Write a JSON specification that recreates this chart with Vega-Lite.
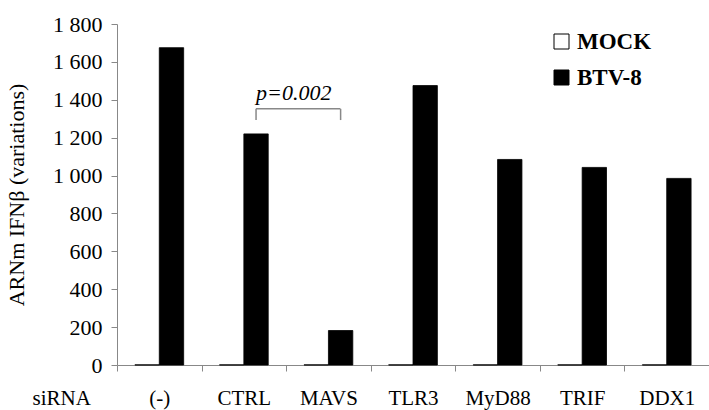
{
  "$schema": "https://vega.github.io/schema/vega-lite/v6.json",
  "width": 592,
  "height": 341,
  "autosize": {"type": "none"},
  "padding": {"left": 117, "top": 24, "right": 0, "bottom": 45},
  "background": "white",
  "config": {
    "view": {"stroke": null},
    "font": "Liberation Serif",
    "legend": {
      "labelFont": "Liberation Serif",
      "labelFontSize": 23,
      "labelFontWeight": "bold",
      "labelColor": "black"
    }
  },
  "datasets": {
    "bars": [
      {"siRNA": "(-)", "group": "MOCK", "value": 1},
      {"siRNA": "(-)", "group": "BTV-8", "value": 1675},
      {"siRNA": "CTRL", "group": "MOCK", "value": 1},
      {"siRNA": "CTRL", "group": "BTV-8", "value": 1220},
      {"siRNA": "MAVS", "group": "MOCK", "value": 1},
      {"siRNA": "MAVS", "group": "BTV-8", "value": 182},
      {"siRNA": "TLR3", "group": "MOCK", "value": 1},
      {"siRNA": "TLR3", "group": "BTV-8", "value": 1475},
      {"siRNA": "MyD88", "group": "MOCK", "value": 1},
      {"siRNA": "MyD88", "group": "BTV-8", "value": 1085},
      {"siRNA": "TRIF", "group": "MOCK", "value": 1},
      {"siRNA": "TRIF", "group": "BTV-8", "value": 1043},
      {"siRNA": "DDX1", "group": "MOCK", "value": 1},
      {"siRNA": "DDX1", "group": "BTV-8", "value": 985}
    ],
    "legs": [
      {"siRNA": "CTRL", "group": "BTV-8", "value": 1293, "value2": 1352},
      {"siRNA": "MAVS", "group": "BTV-8", "value": 1293, "value2": 1352}
    ],
    "bracket": [
      {"siRNA": "CTRL", "to": "MAVS", "group": "BTV-8", "value": 1352}
    ],
    "note": [
      {"siRNA": "CTRL", "group": "BTV-8", "value": 1436, "label": "p=0.002"}
    ]
  },
  "encoding": {
    "x": {
      "field": "siRNA",
      "type": "nominal",
      "sort": ["(-)", "CTRL", "MAVS", "TLR3", "MyD88", "TRIF", "DDX1"],
      "scale": {"paddingInner": 0, "paddingOuter": 0},
      "axis": {
        "title": "siRNA",
        "titleFont": "Liberation Serif",
        "titleFontSize": 21,
        "titleFontWeight": "normal",
        "titleColor": "black",
        "titleX": -85,
        "titleY": 22,
        "titleAlign": "left",
        "titleBaseline": "top",
        "titleAnchor": "start",
        "labelAngle": 0,
        "labelFont": "Liberation Serif",
        "labelFontSize": 21,
        "labelColor": "black",
        "labelPadding": 16,
        "tickBand": "extent",
        "tickSize": 6,
        "tickColor": "#888",
        "domainColor": "#888",
        "grid": false
      }
    },
    "xOffset": {
      "field": "group",
      "type": "nominal",
      "sort": ["MOCK", "BTV-8"],
      "scale": {"paddingInner": 0, "paddingOuter": 0.735}
    },
    "y": {
      "field": "value",
      "type": "quantitative",
      "scale": {"domain": [0, 1800], "nice": false},
      "axis": {
        "title": "ARNm IFNβ (variations)",
        "titleFont": "Liberation Serif",
        "titleFontSize": 22,
        "titleFontWeight": "normal",
        "titleColor": "black",
        "titlePadding": 24,
        "values": [0, 200, 400, 600, 800, 1000, 1200, 1400, 1600, 1800],
        "labelExpr": "replace(format(datum.value, ','), ',', ' ')",
        "labelFont": "Liberation Serif",
        "labelFontSize": 22,
        "labelColor": "black",
        "labelOverlap": false,
        "labelPadding": 9,
        "tickSize": 6,
        "tickColor": "#888",
        "domainColor": "#888",
        "grid": false
      }
    }
  },
  "layer": [
    {
      "data": {"name": "bars"},
      "mark": {"type": "bar", "stroke": "black", "strokeWidth": 0.8},
      "encoding": {
        "fill": {
          "field": "group",
          "type": "nominal",
          "scale": {"domain": ["MOCK", "BTV-8"], "range": ["white", "black"]},
          "legend": {
            "title": null,
            "orient": "none",
            "legendX": 433,
            "legendY": 6,
            "symbolType": "square",
            "symbolSize": 225,
            "symbolStrokeColor": "black",
            "symbolStrokeWidth": 1,
            "labelOffset": 4,
            "rowPadding": 12
          }
        }
      }
    },
    {
      "data": {"name": "legs"},
      "mark": {"type": "rule", "color": "#888", "strokeWidth": 1.5},
      "encoding": {
        "y2": {"field": "value2"}
      }
    },
    {
      "data": {"name": "bracket"},
      "mark": {"type": "rule", "color": "#888", "strokeWidth": 1.5, "x2Offset": 12},
      "encoding": {
        "x2": {"field": "to"}
      }
    },
    {
      "data": {"name": "note"},
      "mark": {"type": "text", "font": "Liberation Serif", "fontSize": 22, "fontStyle": "italic", "align": "left", "baseline": "middle", "color": "black"},
      "encoding": {
        "text": {"field": "label"}
      }
    }
  ]
}
